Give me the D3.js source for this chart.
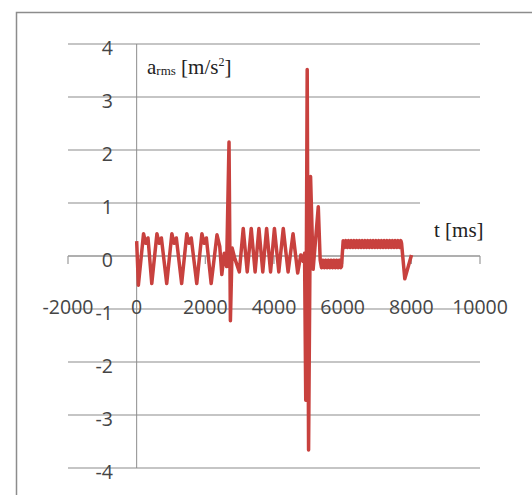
<!DOCTYPE html>
<html>
<head>
<meta charset="utf-8">
<script src="https://cdn.jsdelivr.net/npm/d3@7"></script>
<style>
    body { margin: 0; background: #fff; }
    svg { display: block; }
</style>
</head>
<body>
<div id="chart"></div>
<script>
var xTicks = [-2000, 0, 2000, 4000, 6000, 8000, 10000];
var yTicks = [-4, -3, -2, -1, 0, 1, 2, 3, 4];

// t [ms] and a_rms [m/s2], one pair of arrays per stretch
var walkTime = [
    0, 50, 200, 265, 330, 440,
    590, 655, 720, 875,
    1025, 1090, 1155, 1310,
    1460, 1525, 1590, 1750,
    1900, 1965, 2030, 2170,
    2340, 2420, 2480, 2550, 2620, 2690, 2730,
    2780, 2860, 2990, 3104, 3220, 3337, 3450, 3561, 3673, 3785, 3900,
    4012, 4140, 4270, 4410, 4555, 4690, 4780, 4850, 4890,
    4925, 4967, 5007, 5065, 5140, 5290
];
var walkAccel = [
    0.28, -0.55, 0.42, 0.24, 0.34, -0.52,
    0.42, 0.24, 0.34, -0.52,
    0.42, 0.24, 0.34, -0.52,
    0.42, 0.24, 0.34, -0.52,
    0.42, 0.24, 0.34, -0.52,
    0.40, 0.18, -0.35, 0.05, -0.2, 2.15, -1.22,
    0.15, -0.05, -0.3, 0.52, -0.3, 0.52, -0.3, 0.52, -0.3, 0.52, -0.3,
    0.52, -0.3, 0.52, -0.3, 0.42, -0.32, 0.02, -0.1, 0.05,
    -2.72, 3.52, -3.66, 1.5, -0.25, 0.93
];
var lowTime = [
    5345, 5385, 5425, 5465, 5505, 5545, 5585, 5625, 5665, 5705,
    5745, 5785, 5825, 5865, 5905, 5945, 5965
];
var lowAccel = [
    -0.08, -0.22, -0.08, -0.22, -0.08, -0.22, -0.08, -0.22, -0.08, -0.22,
    -0.08, -0.22, -0.08, -0.22, -0.08, -0.22, -0.2
];
var highTime = [
    6015, 6055, 6095, 6135, 6175, 6215, 6255, 6295, 6335, 6375,
    6415, 6455, 6495, 6535, 6575, 6615, 6655, 6695, 6735, 6775,
    6815, 6855, 6895, 6935, 6975, 7015, 7055, 7095, 7135, 7175,
    7215, 7255, 7295, 7335, 7375, 7415, 7455, 7495, 7535, 7575,
    7615, 7655, 7695, 7715
];
var highAccel = [
    0.29, 0.16, 0.29, 0.16, 0.29, 0.16, 0.29, 0.16, 0.29, 0.16,
    0.29, 0.16, 0.29, 0.16, 0.29, 0.16, 0.29, 0.16, 0.29, 0.16,
    0.29, 0.16, 0.29, 0.16, 0.29, 0.16, 0.29, 0.16, 0.29, 0.16,
    0.29, 0.16, 0.29, 0.16, 0.29, 0.16, 0.29, 0.16, 0.29, 0.16,
    0.29, 0.16, 0.29, 0.24
];
var endTime = [7810, 8005];
var endAccel = [-0.43, 0.02];

var timeMs = walkTime.concat(lowTime, highTime, endTime);
var accel = walkAccel.concat(lowAccel, highAccel, endAccel);

var width = 532;
var height = 495;
var labelFont = '"Open Sans", sans-serif';
var titleFont = '"Liberation Serif", "DejaVu Serif", serif';

var svg = d3.select('#chart').append('svg')
    .attr('width', width)
    .attr('height', height);

svg.append('rect')
    .attr('x', 16.5)
    .attr('y', 12.5)
    .attr('width', 600)
    .attr('height', 600)
    .attr('fill', 'none')
    .attr('stroke', '#8c8c8c')
    .attr('stroke-width', 1.5);

var x = d3.scaleLinear().domain([-2000, 10000]).range([68, 480]);
var y = d3.scaleLinear().domain([-4, 4]).range([468, 44]);

svg.append('g').selectAll('line').data(yTicks).enter()
    .append('line')
    .attr('x1', x(-2000))
    .attr('x2', x(10000))
    .attr('y1', function(d) { return y(d); })
    .attr('y2', function(d) { return y(d); })
    .attr('stroke', '#b2b2b2')
    .attr('stroke-width', 1.5);

// axes cross at zero
svg.append('line')
    .attr('x1', x(0)).attr('x2', x(0))
    .attr('y1', y(4)).attr('y2', y(-4))
    .attr('stroke', '#8c8c8c')
    .attr('stroke-width', 1);

svg.append('line')
    .attr('x1', x(-2000)).attr('x2', x(10000))
    .attr('y1', y(0)).attr('y2', y(0))
    .attr('stroke', '#9a9a9a')
    .attr('stroke-width', 1.2);

svg.append('g').selectAll('line').data(xTicks).enter()
    .append('line')
    .attr('x1', function(d) { return x(d); })
    .attr('x2', function(d) { return x(d); })
    .attr('y1', y(0))
    .attr('y2', y(0) + 8)
    .attr('stroke', '#9a9a9a')
    .attr('stroke-width', 1.2);

svg.append('g').selectAll('text').data(yTicks).enter()
    .append('text')
    .attr('x', 113)
    .attr('y', function(d) { return y(d) + 11; })
    .attr('text-anchor', 'end')
    .attr('font-family', labelFont)
    .attr('font-size', '19.5px')
    .attr('fill', '#454545')
    .text(function(d) { return String(d); });

svg.append('g').selectAll('text').data(xTicks).enter()
    .append('text')
    .attr('x', function(d) { return x(d); })
    .attr('y', 314)
    .attr('text-anchor', 'middle')
    .attr('font-family', labelFont)
    .attr('font-size', '19.5px')
    .attr('fill', '#454545')
    .text(function(d) { return String(d); });

var line = d3.line()
    .x(function(d, i) { return x(timeMs[i]); })
    .y(function(d) { return y(d); });

svg.append('path')
    .datum(accel)
    .attr('d', line)
    .attr('fill', 'none')
    .attr('stroke', '#c8413e')
    .attr('stroke-width', 3.5)
    .attr('stroke-linejoin', 'round');

// x title sits in a white box over the gridline
svg.append('rect')
    .attr('x', 420)
    .attr('y', 198)
    .attr('width', 64)
    .attr('height', 48)
    .attr('fill', '#fff');

svg.append('text')
    .attr('x', 434)
    .attr('y', 237)
    .attr('font-family', titleFont)
    .attr('font-size', '21px')
    .attr('fill', '#222')
    .text('t [ms]');

var yTitle = svg.append('text')
    .attr('x', 147)
    .attr('y', 73.5)
    .attr('font-family', titleFont)
    .attr('fill', '#222');
yTitle.append('tspan').attr('font-size', '21px').text('a');
yTitle.append('tspan').attr('font-size', '13px').attr('dy', 1).text('rms');
yTitle.append('tspan').attr('font-size', '21px').attr('dy', -1).text(' [m/s');
yTitle.append('tspan').attr('font-size', '12px').attr('dy', -8).text('2');
yTitle.append('tspan').attr('font-size', '21px').attr('dy', 8).text(']');
</script>
</body>
</html>
